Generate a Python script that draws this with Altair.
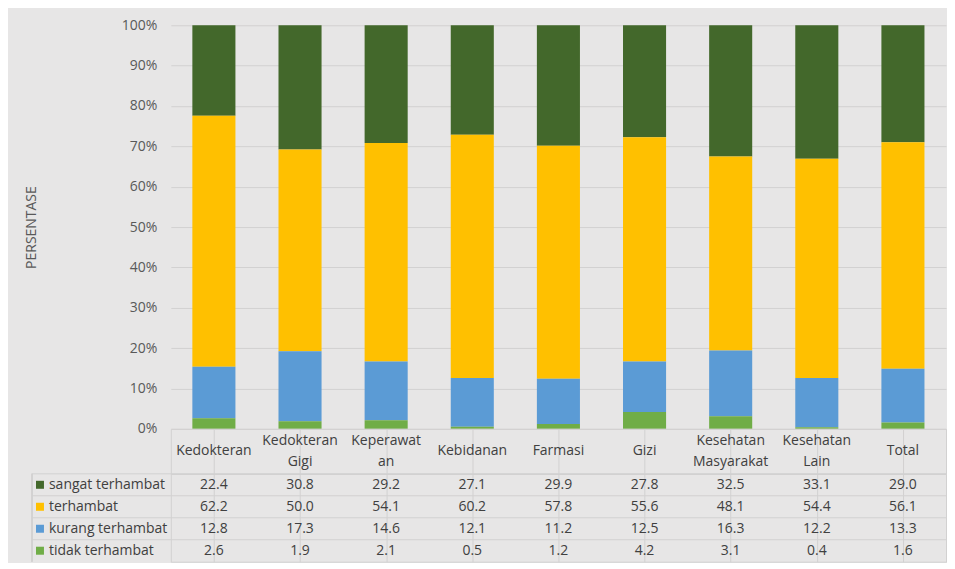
import altair as alt
import pandas as pd

cats = ["Kedokteran", "Kedokteran Gigi", "Keperawatan", "Kebidanan", "Farmasi",
        "Gizi", "Kesehatan Masyarakat", "Kesehatan Lain", "Total"]
header_labels = ["Kedokteran", "Kedokteran\nGigi", "Keperawat\nan", "Kebidanan", "Farmasi",
                 "Gizi", "Kesehatan\nMasyarakat", "Kesehatan\nLain", "Total"]
series = ["sangat terhambat", "terhambat", "kurang terhambat", "tidak terhambat"]
colors = ["#43682b", "#ffc000", "#5b9bd5", "#70ad47"]

sangat_terhambat = [22.4, 30.8, 29.2, 27.1, 29.9, 27.8, 32.5, 33.1, 29.0]
terhambat = [62.2, 50.0, 54.1, 60.2, 57.8, 55.6, 48.1, 54.4, 56.1]
kurang_terhambat = [12.8, 17.3, 14.6, 12.1, 11.2, 12.5, 16.3, 12.2, 13.3]
tidak_terhambat = [2.6, 1.9, 2.1, 0.5, 1.2, 4.2, 3.1, 0.4, 1.6]

values = [sangat_terhambat, terhambat, kurang_terhambat, tidak_terhambat]
rows = []
for si, s in enumerate(series):
    for ci, c in enumerate(cats):
        rows.append({"cat": c, "series": s, "value": values[si][ci], "stackorder": 3 - si})
df = pd.DataFrame(rows)
hdr_df = pd.DataFrame({"cat": cats, "label": header_labels})
ser_df = pd.DataFrame({"series": series})

FONT = "Open Sans"
W = 776
PH = 404
HH = 45
TH = 88
GRID = "#d2d1d1"
TXT = "#404040"
FS = 14

color_scale = alt.Scale(domain=series, range=colors)

bars = alt.Chart(df).mark_bar().encode(
    x=alt.X("cat:N", sort=cats, axis=None,
            scale=alt.Scale(paddingInner=0.5, paddingOuter=0.25)),
    y=alt.Y("value:Q", stack="normalize", scale=alt.Scale(domain=[0, 1]),
            axis=alt.Axis(format=".0%", values=[i / 10 for i in range(11)],
                          grid=True, gridColor=GRID, domain=False, ticks=False,
                          labelColor="#595959", labelFont=FONT, labelFontSize=FS,
                          labelPadding=14, title="PERSENTASE", titleFont=FONT,
                          titleFontSize=14, titleFontWeight="normal",
                          titleColor="#595959", titleX=-139, titleY=PH / 2,
                          titleBaseline="middle")),
    color=alt.Color("series:N", scale=color_scale, legend=None),
    order=alt.Order("stackorder:Q", sort="ascending"),
).properties(width=W, height=PH)

hx = alt.X("cat:N", sort=cats, scale=alt.Scale(paddingInner=0, paddingOuter=0),
           axis=alt.Axis(grid=True, bandPosition=0, gridColor=GRID, labels=False,
                         ticks=False, domain=False, title=None))
hbase = alt.Chart(hdr_df)
h_one = hbase.transform_filter("indexof(datum.label, '\\n') < 0").mark_text(
    font=FONT, fontSize=FS, color=TXT, baseline="middle"
).encode(x=hx, text="label:N")
h_two = hbase.transform_filter("indexof(datum.label, '\\n') >= 0").mark_text(
    lineBreak="\n", font=FONT, fontSize=FS, color=TXT, lineHeight=21,
    baseline="middle", dy=-10.5
).encode(x=hx, text="label:N")
header = alt.layer(h_one, h_two).properties(
    width=W, height=HH, view=alt.ViewBackground(stroke=GRID))

yrow = alt.Y("series:N", sort=series, axis=None,
             scale=alt.Scale(paddingInner=0, paddingOuter=0))

hlines = alt.Chart(ser_df).mark_rule(color=GRID).encode(
    y=alt.Y("series:N", sort=series, axis=None, bandPosition=0,
            scale=alt.Scale(paddingInner=0, paddingOuter=0)),
    x=alt.value(-139), x2=alt.value(W),
)
vline = alt.Chart(ser_df).mark_rule(color=GRID).encode(
    x=alt.value(-139), y=alt.value(0), y2=alt.value(TH),
)
squares = alt.Chart(ser_df).mark_square(size=64, opacity=1).encode(
    y=yrow, x=alt.value(-131),
    color=alt.Color("series:N", scale=color_scale, legend=None),
)
rlabels = alt.Chart(ser_df).mark_text(
    align="left", font=FONT, fontSize=FS, color=TXT, baseline="middle"
).encode(y=yrow, x=alt.value(-122), text="series:N")
vals = alt.Chart(df).mark_text(font=FONT, fontSize=FS, color=TXT, baseline="middle").encode(
    x=alt.X("cat:N", sort=cats, scale=alt.Scale(paddingInner=0, paddingOuter=0),
            axis=alt.Axis(grid=True, bandPosition=0, gridColor=GRID, labels=False,
                          ticks=False, domain=False, title=None)),
    y=yrow,
    text=alt.Text("value:Q", format=".1f"),
)
table = alt.layer(hlines, vline, squares, rlabels, vals).properties(
    width=W, height=TH, view=alt.ViewBackground(stroke=GRID))

chart = alt.vconcat(bars, header, table, spacing=0, bounds="flush").resolve_scale(
    x="independent"
).properties(
    padding={"left": 17, "top": 10, "right": 0, "bottom": 0},
).configure(background="#e7e6e6").configure_view(stroke=None)

chart.save("out.html", embed_options={"renderer": "svg", "actions": False})
